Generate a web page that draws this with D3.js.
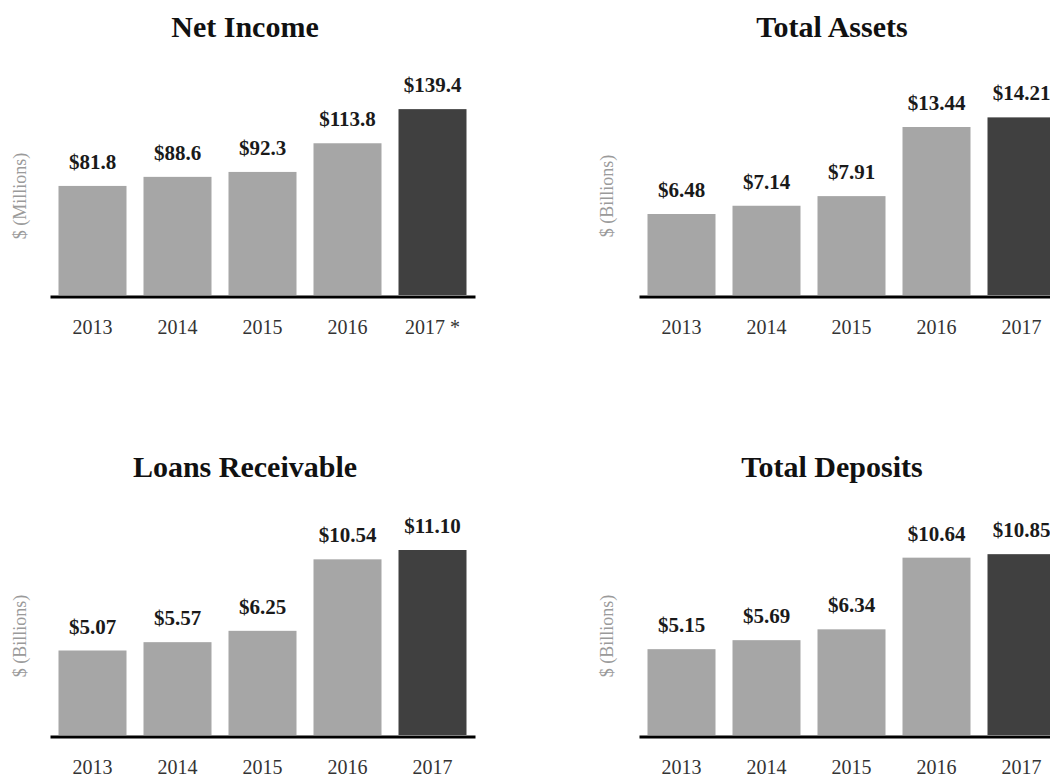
<!DOCTYPE html>
<html>
<head>
<meta charset="utf-8">
<script src="https://cdn.jsdelivr.net/npm/d3@7"></script>
<style>
  html, body { margin: 0; padding: 0; background: #ffffff; }
  svg { display: block; }
  text { font-family: "Liberation Serif", "Times New Roman", Times, serif; }
</style>
</head>
<body>
<svg id="chart" width="1050" height="778"></svg>
<script>
// ---- Data ----
const years = ["2013", "2014", "2015", "2016", "2017"];
const netIncomeLabels = ["2013", "2014", "2015", "2016", "2017 *"];
const otherLabels = ["2013", "2014", "2015", "2016", "2017"];

const netIncome = [81.8, 88.6, 92.3, 113.8, 139.4];       // $ millions
const totalAssets = [6.48, 7.14, 7.91, 13.44, 14.21];     // $ billions
const loansReceivable = [5.07, 5.57, 6.25, 10.54, 11.10]; // $ billions
const totalDeposits = [5.15, 5.69, 6.34, 10.64, 10.85];   // $ billions

const titles = ["Net Income", "Total Assets", "Loans Receivable", "Total Deposits"];
const unitLabels = ["$ (Millions)", "$ (Billions)", "$ (Billions)", "$ (Billions)"];
const valueFormats = [d => "$" + d.toFixed(1), d => "$" + d.toFixed(2), d => "$" + d.toFixed(2), d => "$" + d.toFixed(2)];
const axisMax = [150, 16, 12, 12];

// ---- Layout ----
const panels = [
  { values: netIncome,       labels: netIncomeLabels, x0: 50,  base: 295, titleX: 245, titleY: 37,  yLabX: 20 },
  { values: totalAssets,     labels: otherLabels,     x0: 639, base: 295, titleX: 832, titleY: 37,  yLabX: 607 },
  { values: loansReceivable, labels: otherLabels,     x0: 50,  base: 735, titleX: 245, titleY: 477, yLabX: 20 },
  { values: totalDeposits,   labels: otherLabels,     x0: 639, base: 735, titleX: 832, titleY: 477, yLabX: 607 }
];
const plotWidth = 425;
const plotHeight = 200;
const lightColor = "#a6a6a6";
const darkColor = "#404040";

const svg = d3.select("#chart");

panels.forEach((p, i) => {
  const g = svg.append("g");
  const data = years.map((y, k) => ({ year: y, label: p.labels[k], value: p.values[k], last: k === years.length - 1 }));

  const x = d3.scaleBand()
    .domain(years)
    .range([p.x0, p.x0 + plotWidth])
    .paddingInner(0.2)
    .paddingOuter(0.1);

  const y = d3.scaleLinear()
    .domain([0, axisMax[i]])
    .range([p.base, p.base - plotHeight]);

  // Title
  g.append("text")
    .attr("x", p.titleX)
    .attr("y", p.titleY)
    .attr("text-anchor", "middle")
    .attr("font-size", 30)
    .attr("font-weight", "bold")
    .attr("fill", "#111")
    .text(titles[i]);

  // Y unit label
  g.append("text")
    .attr("transform", `translate(${p.yLabX + 6},${p.base - 99}) rotate(-90)`)
    .attr("text-anchor", "middle")
    .attr("font-size", 18)
    .attr("fill", "#9a9a9a")
    .text(unitLabels[i]);

  // Bars
  g.selectAll("rect.bar")
    .data(data)
    .join("rect")
    .attr("class", "bar")
    .attr("x", d => x(d.year))
    .attr("width", x.bandwidth())
    .attr("y", d => y(d.value))
    .attr("height", d => y(0) - y(d.value))
    .attr("fill", d => d.last ? darkColor : lightColor);

  // Value labels
  g.selectAll("text.val")
    .data(data)
    .join("text")
    .attr("class", "val")
    .attr("x", d => x(d.year) + x.bandwidth() / 2)
    .attr("y", d => y(d.value) - 17)
    .attr("text-anchor", "middle")
    .attr("font-size", 21)
    .attr("font-weight", "bold")
    .attr("fill", "#1a1a1a")
    .text(d => valueFormats[i](d.value));

  // X axis
  const xAxis = d3.axisBottom(x)
    .tickSize(0)
    .tickSizeOuter(0)
    .tickFormat((d, k) => p.labels[k]);

  const ax = g.append("g")
    .attr("transform", `translate(0,${p.base + 1.5})`)
    .call(xAxis);
  ax.select(".domain")
    .attr("stroke", "#000")
    .attr("stroke-width", 3);
  ax.selectAll(".tick text")
    .attr("y", 37.5)
    .attr("dy", 0)
    .attr("font-size", 20)
    .attr("font-family", "\"Liberation Serif\", \"Times New Roman\", Times, serif")
    .attr("fill", "#333");
});
</script>
</body>
</html>
